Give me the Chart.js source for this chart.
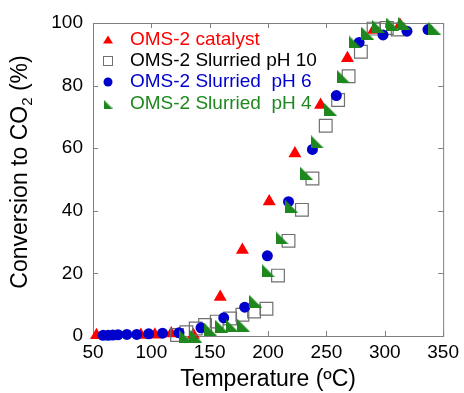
<!DOCTYPE html>
<html>
<head>
<meta charset="utf-8">
<script src="https://cdn.jsdelivr.net/npm/chart.js@4.4.1/dist/chart.umd.min.js"></script>
<style>
  html, body { margin: 0; padding: 0; background: #fff; }
  canvas { display: block; }
</style>
</head>
<body>
<canvas id="chart" width="464" height="393"></canvas>
<script>
// values: [temperature (ºC), conversion (%)]
const catalyst = [[53, 0.2], [91, 0.3], [103, 0.4], [117, 0.8], [136, 0.3], [159, 12.5], [178, 27.5],
    [201, 43], [223, 58.3], [245, 73.8], [268, 88.7], [290.5, 97.8], [313, 99.4]];
const slurried10 = [[122, 0.3], [130, 1.2], [138, 2.4], [146, 3.5], [156, 4.6], [167.5, 5.6], [178, 6.8],
    [188, 7.8], [198.6, 8.7], [208.5, 19.3], [217.5, 30.4], [229, 40.3], [238, 50.3], [249.4, 67.2],
    [260, 75.4], [269, 83], [279.5, 90.8], [290.4, 98.2], [301.7, 98.4], [311, 97.9]];
const slurried6 = [[58.7, 0.2], [63, 0.2], [67, 0.3], [71.4, 0.4], [79, 0.5], [87.5, 0.5], [97.7, 0.7],
    [109.6, 0.9], [123.7, 1.0], [142.5, 2.6], [162, 5.8], [180, 9.2], [199.4, 25.6], [217.5, 42.9],
    [238, 59.6], [258.5, 76.8], [278, 93.8], [298.5, 96.2], [319, 97.4], [337, 97.9]];
const slurried4 = [[129, 0], [138, 0], [150.6, 2.2], [160.5, 3], [169.5, 3.2], [178.8, 3.5], [189.5, 11],
    [200, 21], [212, 31.4], [220, 41.5], [233, 52], [242.4, 62], [253.6, 72.4], [264.4, 83], [274.5, 94],
    [285.5, 96.7], [294.7, 98.9], [307, 99.6], [317, 99.8], [343, 98.2]];

const legendLabels = ['OMS-2 catalyst', 'OMS-2 Slurried pH 10', 'OMS-2 Slurried  pH 6', 'OMS-2 Slurried  pH 4'];
const xTicks = [50, 100, 150, 200, 250, 300, 350];
const yTicks = [0, 20, 40, 60, 80, 100];

const FONT = '"Liberation Sans", Arial, sans-serif';
const FRAME = '#808080';
const GREEN = '#1e881e';

// right-angle triangle marker (◣) for the pH 4 series
function rightTriangle(size, color) {
    const c = document.createElement('canvas');
    c.width = size; c.height = size;
    const g = c.getContext('2d');
    g.fillStyle = color;
    g.beginPath();
    g.moveTo(0, 0);
    g.lineTo(0, size);
    g.lineTo(size, size);
    g.closePath();
    g.fill();
    return c;
}

const toPoints = arr => arr.map(p => ({ x: p[0], y: p[1] }));

// frame, inward ticks, legend and y title
const framePlugin = {
    id: 'frame',
    beforeDatasetsDraw(chart) {
        const { ctx, chartArea: a, scales } = chart;
        ctx.save();
        ctx.strokeStyle = FRAME;
        ctx.lineWidth = 1;
        ctx.strokeRect(a.left + 0.5, a.top + 0.5, a.right - a.left, a.bottom - a.top);
        ctx.beginPath();
        xTicks.forEach(v => {
            const px = Math.round(scales.x.getPixelForValue(v)) + 0.5;
            ctx.moveTo(px, a.bottom); ctx.lineTo(px, a.bottom - 5);
            ctx.moveTo(px, a.top); ctx.lineTo(px, a.top + 5);
        });
        yTicks.forEach(v => {
            const py = Math.round(scales.y.getPixelForValue(v)) + 0.5;
            ctx.moveTo(a.left, py); ctx.lineTo(a.left + 5, py);
            ctx.moveTo(a.right, py); ctx.lineTo(a.right - 5, py);
        });
        ctx.stroke();
        ctx.restore();
    },
    afterDraw(chart) {
        const ctx = chart.ctx;
        ctx.save();

        // legend
        const rows = [40, 61, 82, 104];
        const colors = ['#ff0000', '#000000', '#0000cc', GREEN];
        const mx = 108;
        ctx.font = '19px ' + FONT;
        ctx.textBaseline = 'middle';
        rows.forEach((y, i) => {
            if (i === 0) {
                ctx.fillStyle = '#ff0000';
                ctx.beginPath();
                ctx.moveTo(mx, y - 4.5); ctx.lineTo(mx + 5, y + 3.5); ctx.lineTo(mx - 5, y + 3.5);
                ctx.closePath(); ctx.fill();
            } else if (i === 1) {
                ctx.strokeStyle = '#707070'; ctx.lineWidth = 1;
                ctx.strokeRect(mx - 4.5, y - 4.5, 9, 9);
            } else if (i === 2) {
                ctx.fillStyle = '#0000cc';
                ctx.beginPath(); ctx.arc(mx, y, 4.5, 0, Math.PI * 2); ctx.fill();
            } else {
                ctx.drawImage(rightTriangle(9, GREEN), mx - 4.5, y - 4.5);
            }
            ctx.fillStyle = colors[i];
            ctx.textAlign = 'left';
            ctx.fillText(legendLabels[i], 130, y);
        });

        // y axis title with subscript
        ctx.translate(21, 172);
        ctx.rotate(-Math.PI / 2);
        ctx.fillStyle = '#000';
        ctx.textBaseline = 'middle';
        const big = '23px ' + FONT, small = '15px ' + FONT;
        const p1 = 'Conversion to CO', p2 = '2', p3 = ' (%)';
        ctx.font = big; const w1 = ctx.measureText(p1).width, w3 = ctx.measureText(p3).width;
        ctx.font = small; const w2 = ctx.measureText(p2).width;
        let x = -(w1 + w2 + w3) / 2;
        ctx.font = big; ctx.textAlign = 'left';
        ctx.fillText(p1, x, 0); x += w1;
        ctx.font = small; ctx.fillText(p2, x, 7); x += w2;
        ctx.font = big; ctx.fillText(p3, x, 0);
        ctx.restore();
    }
};

new Chart(document.getElementById('chart'), {
    type: 'scatter',
    data: {
        datasets: [
            {
                label: legendLabels[0], data: toPoints(catalyst), order: 4,
                pointStyle: 'triangle', pointRadius: 7.5, backgroundColor: '#ff0000', borderWidth: 0
            },
            {
                label: legendLabels[1], data: toPoints(slurried10), order: 3,
                pointStyle: 'rect', pointRadius: 9, backgroundColor: 'rgba(0,0,0,0)',
                borderColor: '#707070', borderWidth: 1.2
            },
            {
                label: legendLabels[2], data: toPoints(slurried6), order: 2,
                pointStyle: 'circle', pointRadius: 5.5, backgroundColor: '#0000cc', borderWidth: 0
            },
            {
                label: legendLabels[3], data: toPoints(slurried4), order: 1,
                pointStyle: rightTriangle(13, GREEN), backgroundColor: GREEN
            }
        ]
    },
    options: {
        responsive: false,
        animation: false,
        devicePixelRatio: 1,
        events: [],
        clip: false,
        layout: { padding: { left: 0, right: 17, top: 23, bottom: 0 } },
        plugins: { legend: { display: false }, tooltip: { enabled: false } },
        scales: {
            x: {
                type: 'linear', min: 50, max: 350,
                afterBuildTicks: s => { s.ticks = xTicks.map(v => ({ value: v })); },
                afterFit: s => { s.height = 57; },
                grid: { display: false, drawTicks: false },
                border: { display: false },
                ticks: { color: '#000', padding: 5, font: { family: FONT, size: 19 } },
                title: {
                    display: true, text: 'Temperature (ºC)', color: '#000',
                    padding: { top: 0, bottom: 0 }, font: { family: FONT, size: 23 }
                }
            },
            y: {
                type: 'linear', min: 0, max: 100,
                afterBuildTicks: s => { s.ticks = yTicks.map(v => ({ value: v })); },
                afterFit: s => { s.width = 93; },
                grid: { display: false, drawTicks: false },
                border: { display: false },
                ticks: { color: '#000', padding: 10, font: { family: FONT, size: 19 } }
            }
        }
    },
    plugins: [framePlugin]
});
</script>
</body>
</html>
